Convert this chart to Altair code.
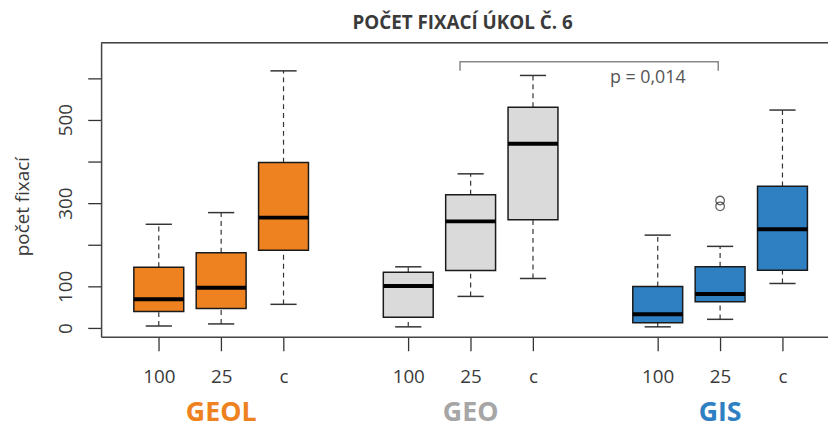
import altair as alt
import pandas as pd

# ---- data ----
groups = ["GEOL", "GEO", "GIS"]
conditions = ["100", "25", "c"]
# order: GEOL(100,25,c), GEO(100,25,c), GIS(100,25,c)
whisk_lo = [5, 10, 57, 3, 76, 119, 3, 21, 107]
q1 = [40, 47, 187, 26, 138, 260, 13, 63, 139]
median = [69, 97, 265, 101, 256, 442, 33, 82, 237]
q3 = [146, 181, 397, 134, 320, 530, 100, 147, 340]
whisk_hi = [249, 277, 617, 147, 370, 606, 223, 196, 523]
outlier_group = ["GIS", "GIS"]
outlier_cond = ["25", "25"]
outlier_val = [306, 292]

y_ticks = [0, 100, 200, 300, 400, 500, 600]
y_tick_labels = [0, 100, 300, 500]

bracket_x = [5.83, 5.83, 9.97, 9.97]
bracket_y = [617, 639, 639, 617]
p_text = "p = 0,014"
p_x = 8.84
p_y = 587

title_text = "POČET FIXACÍ ÚKOL Č. 6"
y_title = "počet fixací"

fills = ["#EE8220", "#D9DAD9", "#2F80C3"]
label_colors = ["#EE8220", "#A6A6A6", "#2F80C3"]

# ---- build tables ----
nc = len(conditions)
rows = []
for gi, g in enumerate(groups):
    for ci, c in enumerate(conditions):
        k = gi * nc + ci
        pos = gi * (nc + 1) + ci + 1
        rows.append(dict(group=g, cond=c, pos=pos, lo=whisk_lo[k], q1=q1[k],
                         med=median[k], q3=q3[k], hi=whisk_hi[k], fill=fills[gi]))
df = pd.DataFrame(rows)
df["xl"] = df["pos"] - 0.4
df["xr"] = df["pos"] + 0.4
df["cl"] = df["pos"] - 0.21
df["cr"] = df["pos"] + 0.21

pos_of = {(r.group, r.cond): r.pos for r in df.itertuples()}
out_df = pd.DataFrame(dict(group=outlier_group, cond=outlier_cond, val=outlier_val))
out_df["pos"] = [pos_of[(g, c)] for g, c in zip(outlier_group, outlier_cond)]

grp_df = pd.DataFrame(dict(group=groups, col=label_colors))
grp_df["pos"] = [gi * (nc + 1) + (nc + 1) / 2 for gi in range(len(groups))]

br_df = pd.DataFrame(dict(x=bracket_x, y=bracket_y, o=list(range(len(bracket_x)))))
p_df = pd.DataFrame(dict(x=[p_x], y=[p_y], t=[p_text]))
title_df = pd.DataFrame(dict(t=[title_text]))

FONT = "Open Sans"
W, H = 734, 297

xs = alt.Scale(domain=[0.075, 11.73], nice=False, zero=False)
ys = alt.Scale(domain=[-21, 684.5], nice=False, zero=False)

label_map = " : ".join(
    f"datum.value % {nc+1} == {i+1} ? '{c}'" for i, c in enumerate(conditions[:-1])
) + f" : '{conditions[-1]}'"

xaxis = alt.Axis(values=list(df["pos"]), labelExpr=label_map, title=None, grid=False,
                 tickSize=14, tickColor="#333333", tickWidth=1.3,
                 domainColor="#444444", domainWidth=1.5,
                 labelFont=FONT, labelFontSize=19, labelColor="#3a3a3a",
                 labelPadding=17, labelOverlap=False)
yaxis = alt.Axis(values=y_ticks,
                 labelExpr="indexof(" + str(y_tick_labels) + ", datum.value) >= 0 ? datum.label : ''",
                 title=y_title, grid=False,
                 tickSize=13.5, tickColor="#333333", tickWidth=1.3,
                 domainColor="#444444", domainWidth=1.5,
                 labelFont=FONT, labelFontSize=19, labelColor="#3a3a3a",
                 labelAngle=-90, labelAlign="center", labelBaseline="alphabetic",
                 labelPadding=16, labelOverlap=False,
                 titleFont=FONT, titleFontSize=19, titleFontWeight="normal",
                 titleColor="#3a3a3a", titleAngle=-90, titleAlign="center",
                 titleBaseline="alphabetic", titleX=-73, titleY=165)

def X(f):
    return alt.X(f, type="quantitative", scale=xs, axis=xaxis)

def Y(f):
    return alt.Y(f, type="quantitative", scale=ys, axis=yaxis)

base = alt.Chart(df)

whisk_up = base.mark_rule(color="#333333", strokeWidth=1.2, strokeDash=[5, 4]).encode(
    x=X("pos"), y=Y("q3"), y2="hi")
whisk_dn = base.mark_rule(color="#333333", strokeWidth=1.2, strokeDash=[5, 4]).encode(
    x=X("pos"), y=Y("lo"), y2="q1")
cap_up = base.mark_rule(color="#333333", strokeWidth=1.5).encode(
    x=X("cl"), x2="cr", y=Y("hi"))
cap_dn = base.mark_rule(color="#333333", strokeWidth=1.5).encode(
    x=X("cl"), x2="cr", y=Y("lo"))
boxes = base.mark_rect(stroke="#1a1a1a", strokeWidth=1.5).encode(
    x=X("xl"), x2="xr", y=Y("q1"), y2="q3",
    fill=alt.Fill("fill:N", scale=None))
meds = base.mark_rule(color="#000000", strokeWidth=4).encode(
    x=X("xl"), x2="xr", y=Y("med"))

outs = alt.Chart(out_df).mark_point(shape="circle", filled=False, size=75,
                                    color="#222222", strokeWidth=1.3).encode(
    x=X("pos"), y=Y("val"))

bracket = alt.Chart(br_df).mark_line(color="#888888", strokeWidth=1.5).encode(
    x=X("x"), y=Y("y"), order="o:O")
ptext = alt.Chart(p_df).mark_text(font=FONT, fontSize=18, color="#555555",
                                  align="center", baseline="alphabetic").encode(
    x=X("x"), y=Y("y"), text="t:N")

top_rule = alt.Chart(p_df).mark_rule(color="#444444", strokeWidth=1.5).encode(
    x=alt.value(0), x2=alt.value(W), y=alt.value(0))

title_mark = alt.Chart(title_df).mark_text(font=FONT, fontSize=19, fontWeight="bold",
                                           color="#3a3a3a", align="center",
                                           baseline="alphabetic").encode(
    x=alt.value(365), y=alt.value(-14), text="t:N")

grp_labels = alt.Chart(grp_df).mark_text(font=FONT, fontSize=27, fontWeight="bold",
                                         align="center", baseline="alphabetic").encode(
    x=X("pos"), y=alt.value(382), text="group:N",
    color=alt.Color("col:N", scale=None))

chart = alt.layer(
    whisk_up, whisk_dn, cap_up, cap_dn, boxes, meds, outs, bracket, ptext, top_rule,
    title_mark, grp_labels
).properties(
    width=W, height=H,
    autosize=alt.AutoSizeParams(type="none"),
    padding={"left": 94, "top": 33, "right": 0, "bottom": 92},
).configure_view(stroke=None).configure(background="white")

chart.save("out.html", embed_options={"renderer": "svg", "actions": False})
